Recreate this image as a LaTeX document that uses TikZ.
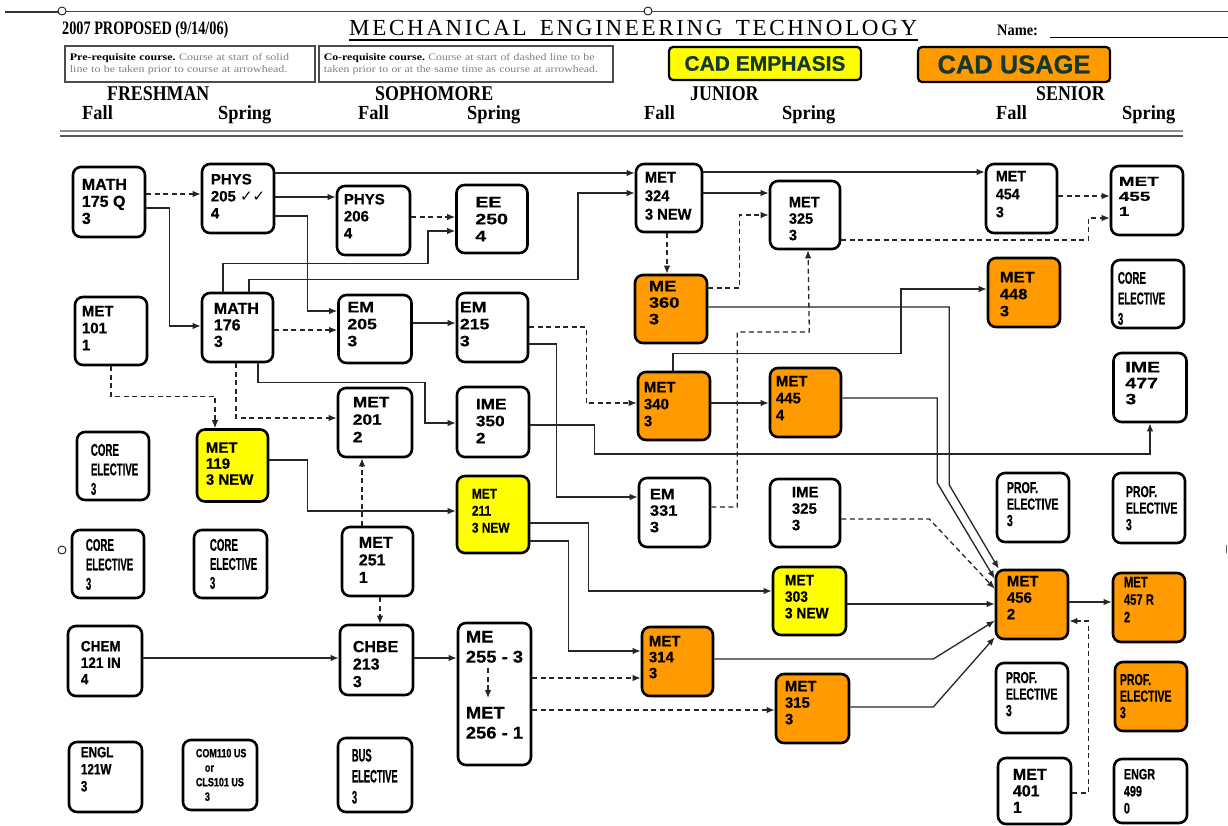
\documentclass[tikz,border=0pt]{standalone}
\usepackage{fontspec}
\usetikzlibrary{arrows.meta,calc}
\setmainfont{Liberation Sans}
\newfontfamily\djv{DejaVu Sans}
\newfontfamily\legfontA[FakeStretch=1.2]{Liberation Serif}
\newfontfamily\legfontB[FakeStretch=1.18]{Liberation Serif}
\newcommand\cf[3]{\fontspec[FakeStretch=#2,FakeBold=0.6]{Liberation Sans}\bfseries\fontsize{#1pt}{#3pt}\selectfont}
\newcommand\hs[3]{\fontspec[FakeStretch=#2]{Liberation Serif}\bfseries\fontsize{#1pt}{#3pt}\selectfont}
\definecolor{cadorange}{HTML}{FF9A00}
\definecolor{cadyellow}{HTML}{FFFF00}
\definecolor{linec}{HTML}{262626}
\definecolor{cadtext}{HTML}{143A30}
\newcommand\crs[7]{%
  \node[box,#3] (#1) at (#2) {};
  \node[txt,font=#6] (#1-t) at ([xshift=#4pt,yshift=-#5pt]#1.north west) {#7};}
\begin{document}
\begin{tikzpicture}[x=1pt,y=-1pt,
  box/.style={draw=black, line width=2.6pt, rounded corners=8pt, fill=white,
    minimum width=72pt, minimum height=69pt, inner sep=0pt},
  txt/.style={anchor=north west, inner sep=0pt, align=left, text=black},
  con/.style={draw=linec, line width=1.3pt, -{Latex[length=8pt,width=6.5pt]}},
  dcon/.style={con, dash pattern=on 5pt off 3.5pt},
  hdr/.style={anchor=base west, inner sep=0pt},
  legend/.style={draw=black!70, line width=1.7pt, minimum height=36pt,
    inner xsep=5pt, inner ysep=2pt, align=left, anchor=north west},
  handle/.style={draw=black, fill=white, line width=0.8pt, circle, inner sep=0pt, minimum size=8pt}]
\useasboundingbox (0,0) rectangle (1228,825);
\fill[white] (0,0) rectangle (1228,825);

% ---------- header ----------
\draw[line width=2pt, black!80] (5,12) -- (62,12);
\draw[line width=1pt, black!70] (62,11) -- (1228,11);
\node[handle] (h1) at (62,11) {};
\node[handle] (h2) at (648,11) {};
\node[hdr, font=\hs{19}{0.75}{21}] (title) at (62,34) {2007 PROPOSED (9/14/06)};
\node[hdr, font={\fontspec{Liberation Serif}\fontsize{23pt}{25pt}\selectfont}] (mtitle) at (349,35)
 {\hbox to 568pt{M\hfil E\hfil C\hfil H\hfil A\hfil N\hfil I\hfil C\hfil A\hfil L\hfil\hspace{8pt}\hfil E\hfil N\hfil G\hfil I\hfil N\hfil E\hfil E\hfil R\hfil I\hfil N\hfil G\hfil\hspace{8pt}\hfil T\hfil E\hfil C\hfil H\hfil N\hfil O\hfil L\hfil O\hfil G\hfil Y}};
\draw[line width=2pt] (349,40) -- (918,40);
\node[hdr, font=\hs{16}{0.9}{18}] (namelbl) at (997,35) {Name:};
\draw[line width=1pt] (1050,37) -- (1228,37);

\node[legend, text width=240pt, font={\legfontA\fontsize{10pt}{11.5pt}\selectfont}] (leg1) at (64,45)
 {\textbf{Pre-requisite course.}\ \textcolor{black!50}{Course at start of solid}\\\textcolor{black!50}{line to be taken prior to course at arrowhead.}};
\node[legend, text width=284pt, font={\legfontB\fontsize{10pt}{11.5pt}\selectfont}] (leg2) at (318,45)
 {\textbf{Co-requisite course.}\ \textcolor{black!50}{Course at start of dashed line to be}\\\textcolor{black!50}{taken prior to or at the same time as course at arrowhead.}};

\node[draw=black, fill=cadyellow, line width=2.2pt, rounded corners=4pt, minimum width=192pt, minimum height=33pt,
  text=cadtext, font=\cf{21}{1}{23}] (cademph) at (765,63.5) {CAD EMPHASIS};
\node[draw=black, fill=cadorange, line width=2.2pt, rounded corners=4pt, minimum width=192pt, minimum height=35pt,
  text=cadtext, font=\cf{26}{0.98}{28}] (cadusage) at (1014,64.5) {CAD USAGE};

\node[hdr, font=\hs{21}{0.85}{23}] (yr1) at (107,100) {FRESHMAN};
\node[hdr, font=\hs{21}{0.85}{23}] (yr2) at (375,100) {SOPHOMORE};
\node[hdr, font=\hs{21}{0.85}{23}] (yr3) at (690,100) {JUNIOR};
\node[hdr, font=\hs{21}{0.85}{23}] (yr4) at (1036,100) {SENIOR};
\node[hdr, font=\hs{20}{0.92}{22}] (s1) at (82,119) {Fall};
\node[hdr, font=\hs{20}{0.92}{22}] (s2) at (218,119) {Spring};
\node[hdr, font=\hs{20}{0.92}{22}] (s3) at (358,119) {Fall};
\node[hdr, font=\hs{20}{0.92}{22}] (s4) at (467,119) {Spring};
\node[hdr, font=\hs{20}{0.92}{22}] (s5) at (644,119) {Fall};
\node[hdr, font=\hs{20}{0.92}{22}] (s6) at (782,119) {Spring};
\node[hdr, font=\hs{20}{0.92}{22}] (s7) at (996,119) {Fall};
\node[hdr, font=\hs{20}{0.92}{22}] (s8) at (1122,119) {Spring};
\draw[line width=2.5pt, black!45] (60,131) -- (1183,131);
\draw[line width=2pt, black!65] (60,135.5) -- (1183,135.5);

\node[handle] (h3) at (62,550) {};
\draw[line width=1pt, black!60] (1226,545) -- (1226,553);

% ---------- course boxes ----------
\crs{m175}{109,202}{minimum height=70pt}{10}{13}{\cf{16}{1}{17}}{MATH\\175 Q\\3}
\crs{p205}{238,198.5}{}{10}{11}{\cf{15}{1}{17}}{PHYS\\205 {\djv\fontsize{15pt}{17pt}\selectfont ✓✓}\\4}
\crs{p206}{373.5,220.5}{minimum width=73pt}{8}{9}{\cf{15}{1}{17}}{PHYS\\206\\4}
\crs{ee250}{492,219}{minimum width=71pt,minimum height=68pt}{20}{13}{\cf{15}{1.3}{17}}{EE\\250\\4}
\crs{m324}{669,198}{minimum width=66pt,minimum height=68pt}{10}{9}{\cf{15.5}{0.95}{18.5}}{MET\\324\\3 NEW}
\crs{m325}{805,215}{minimum width=70pt,minimum height=68pt}{20}{17}{\cf{15}{0.97}{16.5}}{MET\\325\\3}
\crs{m454}{1021.5,198.5}{minimum width=71pt}{11}{8}{\cf{15}{0.95}{18}}{MET\\454\\3}
\crs{m455}{1147,200.5}{}{9}{12}{\cf{13}{1.45}{15}}{MET\\455\\1}
\crs{m101}{111,331}{minimum height=68pt}{8}{10}{\cf{15}{1}{17}}{MET\\101\\1}
\crs{m176}{237.5,327.5}{minimum width=71pt}{13}{11}{\cf{16}{1}{16.5}}{MATH\\176\\3}
\crs{em205}{375,329}{minimum width=73pt,minimum height=68pt}{10}{8}{\cf{15}{1.18}{17}}{EM\\205\\3}
\crs{em215}{492.5,327.5}{minimum width=71pt}{4}{10}{\cf{15}{1.18}{17}}{EM\\215\\3}
\crs{me360}{671,309}{fill=cadorange,minimum height=68pt}{15}{7}{\cf{15}{1.22}{16.5}}{ME\\360\\3}
\crs{m448}{1024,292.5}{fill=cadorange}{13}{15}{\cf{15}{1.1}{17}}{MET\\448\\3}
\crs{core4}{1148,294}{minimum height=68pt}{7}{13}{\cf{17}{0.57}{20.5}}{CORE\\ELECTIVE\\3}
\crs{m340}{674,406}{fill=cadorange,minimum height=68pt}{7}{11}{\cf{15}{1}{17}}{MET\\340\\3}
\crs{m445}{805.5,402.5}{fill=cadorange,minimum width=71pt}{7}{9}{\cf{15}{1}{17}}{MET\\445\\4}
\crs{ime477}{1150,387.5}{minimum width=73pt}{13}{10}{\cf{15}{1.3}{16}}{IME\\477\\3}
\crs{core1}{113,466}{minimum height=68pt}{15}{13}{\cf{17}{0.57}{19.5}}{CORE\\ELECTIVE\\3}
\crs{m119}{232.5,465.5}{fill=cadyellow,minimum width=71pt,minimum height=72pt}{10}{14}{\cf{15}{1}{16}}{MET\\119\\3 NEW}
\crs{m201}{375,422.5}{minimum width=74pt}{16}{10}{\cf{15}{1.15}{17.5}}{MET\\201\\2}
\crs{ime350}{493,422}{minimum height=70pt}{20}{13}{\cf{15}{1.15}{17}}{IME\\350\\2}
\crs{m211}{493,514.5}{fill=cadyellow,minimum height=77pt}{16}{14}{\cf{14}{0.85}{17}}{MET\\211\\3 NEW}
\crs{em331}{674.5,512.5}{minimum width=71pt}{12}{12}{\cf{15}{1.1}{16.5}}{EM\\331\\3}
\crs{ime325}{805,513}{minimum width=70pt,minimum height=68pt}{23}{9}{\cf{15}{1}{16.5}}{IME\\325\\3}
\crs{prof1}{1033,507.5}{}{11}{10}{\cf{16}{0.66}{16.5}}{PROF.\\ELECTIVE\\3}
\crs{prof2}{1149,508}{minimum height=70pt}{14}{14}{\cf{16}{0.66}{16.5}}{PROF.\\ELECTIVE\\3}
\crs{core2}{108,564}{minimum height=68pt}{15}{10}{\cf{17}{0.57}{19.5}}{CORE\\ELECTIVE\\3}
\crs{core3}{230.5,564}{minimum width=73pt,minimum height=68pt}{17}{10}{\cf{17}{0.57}{19}}{CORE\\ELECTIVE\\3}
\crs{m251}{377.5,561.5}{minimum width=71pt}{18}{11}{\cf{16}{1}{17.5}}{MET\\251\\1}
\crs{m303}{809.5,601}{fill=cadyellow,minimum width=73pt,minimum height=68pt}{13}{9}{\cf{15}{0.92}{16.5}}{MET\\303\\3 NEW}
\crs{m456}{1032,604.5}{fill=cadorange}{12}{7}{\cf{15}{1}{16.5}}{MET\\456\\2}
\crs{m457}{1149,607.5}{fill=cadorange}{12}{5}{\cf{15}{0.75}{17.5}}{MET\\457 R\\2}
\crs{chem}{105,661}{minimum width=74pt,minimum height=70pt}{14}{16}{\cf{15}{0.9}{16.5}}{CHEM\\121 IN\\4}
\crs{chbe}{376.5,660}{minimum width=73pt,minimum height=70pt}{14}{17}{\cf{16}{1}{17.5}}{CHBE\\213\\3}
\node[box,minimum width=73pt,minimum height=142pt] (me255) at (494.5,694) {};
\node[txt,font=\cf{17}{1.08}{20}] (me255-t) at ([xshift=9pt,yshift=-9pt]me255.north west) {ME\\255 - 3};
\node[txt,font=\cf{17}{1.08}{20}] (met256-t) at ([xshift=9pt,yshift=-85pt]me255.north west) {MET\\256 - 1};
\crs{m314}{677.5,661.5}{fill=cadorange,minimum width=71pt}{8}{10}{\cf{15}{1}{16}}{MET\\314\\3}
\crs{m315}{812.5,708.5}{fill=cadorange,minimum width=73pt}{10}{8}{\cf{15}{1}{16.5}}{MET\\315\\3}
\crs{prof3}{1032,698}{minimum height=70pt}{11}{10}{\cf{16}{0.66}{16.5}}{PROF.\\ELECTIVE\\3}
\crs{prof4}{1151,696.5}{fill=cadorange}{6}{13}{\cf{16}{0.66}{16.5}}{PROF.\\ELECTIVE\\3}
\crs{engl}{105.5,777}{minimum width=73pt,minimum height=70pt}{13}{6}{\cf{15}{0.78}{17}}{ENGL\\121W\\3}
\crs{com}{220,775}{minimum width=74pt,minimum height=70pt}{14}{10}{\cf{12}{0.75}{14.5}}{COM110 US\\\hspace*{9pt}or\\CLS101 US\\\hspace*{9pt}3}
\crs{bus}{375,775}{minimum width=74pt,minimum height=74pt}{15}{12}{\cf{18}{0.52}{21}}{BUS\\ELECTIVE\\3}
\crs{m401}{1034.5,791}{minimum width=73pt,minimum height=66pt}{16}{12}{\cf{16}{1}{16.5}}{MET\\401\\1}
\crs{engr}{1150.5,791}{minimum width=73pt,minimum height=64pt}{11}{11}{\cf{15}{0.72}{17}}{ENGR\\499\\0}

% ---------- connectors ----------
\draw[dcon] ([yshift=8pt]m175.east) -- ([yshift=4.5pt]p205.west);
\draw[con] ([yshift=-6pt]m175.east) -- ++(23,0) |- ([yshift=1.5pt]m176.west);
\draw[con] ([yshift=25.5pt]p205.east) -- ([yshift=25pt]m324.west);
\draw[con] ([yshift=1.5pt]p205.east) -- ([yshift=23.5pt]p206.west);
\draw[con] ([yshift=-17.5pt]p205.east) -- ++(32,0) |- ([yshift=18pt]em205.west);
\draw[dcon] ([yshift=3.5pt]p206.east) -- ([yshift=2pt]ee250.west);
\draw[con] ([xshift=-14.5pt]m176.north) |- ++(205,-28) |- ([yshift=-12pt]ee250.west);
\draw[con] ([xshift=11.5pt]m176.north) |- ++(329,-12) |- ([yshift=5pt]m324.west);
\draw[dcon] ([yshift=-2.5pt]m176.east) -- ([yshift=-1pt]em205.west);
\draw[con] ([xshift=20.5pt]m176.south) |- ++(167,19) |- ([yshift=-1pt]ime350.west);
\draw[dcon] ([xshift=-1.5pt]m176.south) |- ([yshift=4.5pt]m201.west);
\draw[dcon] (m101.south) |- ++(104,30) -- ([xshift=-17.5pt]m119.north);
\draw[con] ([yshift=6pt]em205.east) -- ([yshift=4.5pt]em215.west);
\draw[dcon] ([yshift=0.5pt]em215.east) -- ++(57,0) |- ([yshift=3pt]m340.west);
\draw[con] ([yshift=-16.5pt]em215.east) -- ++(27,0) |- ([yshift=15.5pt]em331.west);
\draw[con] ([yshift=-3pt]ime350.east) -- ++(64,0) -- ++(0,29) -| (ime477.south);
\draw[con] ([yshift=5.5pt]m119.east) -- ++(38,0) |- ([yshift=3.5pt]m211.west);
\draw[dcon] ([xshift=-15.5pt]m251.north) -- ([xshift=-13pt]m201.south);
\draw[dcon] ([xshift=2.5pt]m251.south) -- ([xshift=3.5pt]chbe.north);
\draw[con] ([yshift=3pt]chem.east) -- ([yshift=2pt]chbe.west);
\draw[con] ([yshift=2pt]chbe.east) -- ([yshift=36pt]me255.west);
\draw[dcon] ([xshift=-6.5pt,yshift=26pt]me255.center) -- ([xshift=-6.5pt,yshift=-4pt]me255.center);
\draw[dcon] ([yshift=16pt]me255.east) -- ([yshift=-16.5pt]m314.west);
\draw[dcon] ([yshift=-16pt]me255.east) -- ([yshift=-1.5pt]m315.west);
\draw[con] ([yshift=-8.5pt]m211.east) -- ++(58,0) |- ([yshift=10pt]m303.west);
\draw[con] ([yshift=-26.5pt]m211.east) -- ++(38,0) |- ([yshift=10.5pt]m314.west);
\draw[dcon] ([xshift=-2pt]m324.south) -- ([xshift=-4pt]me360.north);
\draw[con] ([yshift=5pt]m324.east) -- ([yshift=22pt]m325.west);
\draw[dcon] ([yshift=21pt]me360.east) -- ++(31,0) |- (m325.west);
\draw[dcon] ([yshift=5.5pt]em331.east) -- ++(26,0) |- ++(72,-175) -- ([xshift=3pt]m325.south);
\draw[con] ([yshift=26pt]m324.east) -- ([yshift=26.5pt]m454.west);
\draw[dcon] ([yshift=2.5pt]m454.east) -- ([yshift=4.5pt]m455.west);
\draw[dcon] ([yshift=-25pt]m325.east) -- ++(247,0) |- ([yshift=-17.5pt]m455.west);
\draw[con] ([yshift=2pt]me360.east) -- ++(241,0) -- ++(0,178) -- ([xshift=4pt]m456.north west);
\draw[con] ([yshift=4.5pt]m445.east) -- ++(95,0) -- ++(0,85) -- ([yshift=-10pt]m456.north west);
\draw[dcon] ([yshift=-6pt]ime325.east) -- ++(88,0) -- ([yshift=-20pt]m456.north west);
\draw[con] ([yshift=-3pt]m303.east) -- ([yshift=0.5pt]m456.west);
\draw[con] ([yshift=2.5pt]m314.east) -- ++(219,0) -- ([yshift=-52pt]m456.north west);
\draw[con] ([yshift=1.5pt]m315.east) -- ++(83,0) -- ([yshift=3pt]m456.south west);
\draw[con] ([yshift=3pt]m340.east) -- ([yshift=-0.5pt]m445.west);
\draw[con] ([xshift=-1pt]m340.north) |- ++(228,-17) |- ([yshift=3.5pt]m448.west);
\draw[con] ([yshift=2.5pt]m456.east) -- ([yshift=5.5pt]m457.west);
\draw[dcon] ([yshift=-2pt]m401.east) -- ++(16,0) |- ([yshift=-16.5pt]m456.east);
\end{tikzpicture}
\end{document}
